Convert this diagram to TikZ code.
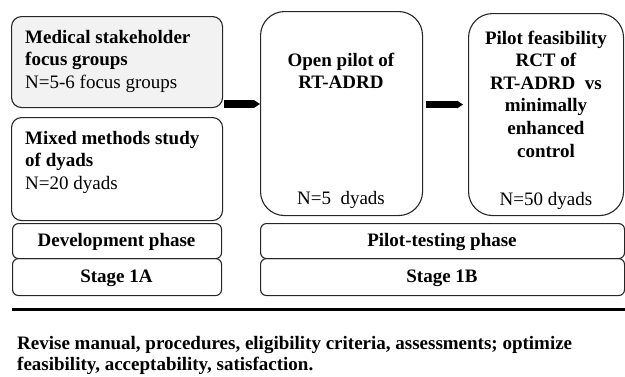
\documentclass[tikz,border=0pt]{standalone}
\usepackage{fontspec}
\setmainfont{Liberation Serif}
\usetikzlibrary{arrows.meta}
\tikzset{
  box/.style={draw=black!85, line width=1.1pt, inner sep=0pt, anchor=north west},
  bigbox/.style={box, rounded corners=24pt},
  smallbox/.style={box, rounded corners=10pt},
  phasebox/.style={box, rounded corners=6pt},
  txt/.style={inner sep=0pt, font=\fontsize{19}{22.6}\selectfont},
  bigarrow/.style={draw=black, line width=7.5pt, -{Triangle[length=6pt,width=7.5pt]}},
}
\begin{document}
\begin{tikzpicture}[x=1pt,y=-1pt]
\useasboundingbox (0,0) rectangle (625,376);
% boxes
\node[smallbox, fill=black!5, minimum width=211, minimum height=91] (b1) at (11,16) {};
\node[smallbox, minimum width=211, minimum height=103] (b2) at (11,117) {};
\node[bigbox, minimum width=162, minimum height=204] (op) at (260,11) {};
\node[bigbox, minimum width=155, minimum height=202] (rct) at (468,13) {};
\node[phasebox, minimum width=209, minimum height=35] (dev) at (12,223) {};
\node[phasebox, minimum width=209, minimum height=37] (s1a) at (12,258) {};
\node[phasebox, minimum width=364, minimum height=35] (pil) at (260,223) {};
\node[phasebox, minimum width=364, minimum height=37] (s1b) at (260,258) {};
% texts
\node[txt, anchor=base west] (t1a) at (25,43) {\textbf{Medical stakeholder}};
\node[txt, anchor=base west] (t1b) at (25,65.5) {\textbf{focus groups}};
\node[txt, anchor=base west] (t1c) at (25,88) {N=5-6 focus groups};
\node[txt, anchor=base west] (t2a) at (25,144) {\textbf{Mixed methods study}};
\node[txt, anchor=base west] (t2b) at (25,166.5) {\textbf{of dyads}};
\node[txt, anchor=base west] (t2c) at (25,189) {N=20 dyads};
\node[txt, anchor=base] (t3a) at (341,66) {\textbf{Open pilot of}};
\node[txt, anchor=base] (t3b) at (341,88) {\textbf{RT-ADRD}};
\node[txt, anchor=base] (t3c) at (341,204) {N=5\ \ dyads};
\node[txt, anchor=base] (t4a) at (546,44) {\textbf{Pilot feasibility}};
\node[txt, anchor=base] (t4b) at (546,66.6) {\textbf{RCT of}};
\node[txt, anchor=base] (t4c) at (546,89.2) {\textbf{RT-ADRD\ \ vs}};
\node[txt, anchor=base] (t4d) at (546,111.8) {\textbf{minimally}};
\node[txt, anchor=base] (t4e) at (546,134.4) {\textbf{enhanced}};
\node[txt, anchor=base] (t4f) at (546,157) {\textbf{control}};
\node[txt, anchor=base] (t4g) at (546,205) {N=50 dyads};
\node[txt, anchor=base] (tdev) at (116.5,246) {\textbf{Development phase}};
\node[txt, anchor=base] (ts1a) at (116.5,282) {\textbf{Stage 1A}};
\node[txt, anchor=base] (tpil) at (442,246) {\textbf{Pilot-testing phase}};
\node[txt, anchor=base] (ts1b) at (442,282) {\textbf{Stage 1B}};
\node[txt, anchor=base west] (r1) at (17,349) {\textbf{Revise manual, procedures, eligibility criteria, assessments; optimize}};
\node[txt, anchor=base west] (r2) at (17,370) {\textbf{feasibility, acceptability, satisfaction.}};
% rule
\coordinate (ruleL) at (12,309);
\coordinate (ruleR) at (625,309);
\draw[line width=3pt] (ruleL) -- (ruleR);
% arrows
\coordinate (a1) at (0,104);
\coordinate (a2) at (0,104.5);
\draw[bigarrow, shorten <=1pt] (b1.east |- a1) -- (op.west |- a1);
\draw[bigarrow, shorten <=3pt, shorten >=5pt] (op.east |- a2) -- (rct.west |- a2);
\end{tikzpicture}
\end{document}
